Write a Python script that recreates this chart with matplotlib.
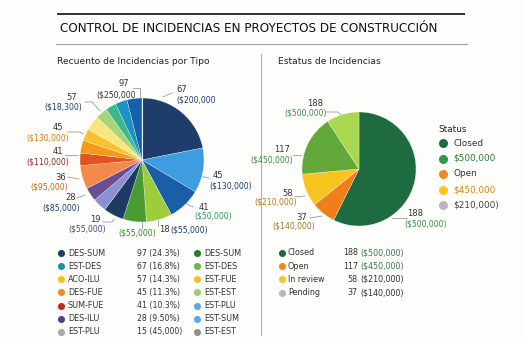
import matplotlib
matplotlib.use("Agg")
import matplotlib.pyplot as plt
import numpy as np

W, H = 525, 343

# ---------------- data ----------------
type_share = [21.9, 11.7, 8.6, 6.7, 6.1, 5.3, 3.6, 3.6, 6.1, 3.3, 3.3, 3.1, 3.9, 3.1, 2.8, 3.1, 3.9]
type_colors = ["#1f3d6b", "#3d9de0", "#1a5ea8", "#9dcc3c", "#4a9b32", "#1c3a62", "#8a90d2",
               "#6b4e94", "#f5894a", "#e4521f", "#f39a1a", "#f8c22c", "#fbe57c", "#a6d67a",
               "#3db88c", "#1b93c2", "#1560aa"]

status_share = [57.2, 6.9, 9.3, 17.2, 9.2]
status_colors = ["#1e6b40", "#f07f1a", "#f8c41f", "#62a83a", "#a8d84f"]

left_pie_numbers = ["97", "67", "45", "41", "18", "", "19", "28", "36", "41", "45", "57"]
left_pie_money = ["($250,000", "($200,000", "($130,000)", "($50,000)", "($55,000)", "($55,000)",
                  "($55,000)", "($85,000)", "($95,000)", "($110,000)", "($130,000)", "($18,300)"]

right_pie_numbers = ["188", "117", "58", "37", "188"]
right_pie_money = ["($500,000)", "($450,000)", "($210,000)", "($140,000)", "($500,000)"]

legend_status_title = "Status"
legend_status_labels = ["Closed", "$500,000", "Open", "$450,000", "$210,000)"]
legend_status_colors = ["#1e6b40", "#2a9a4a", "#f08a1a", "#f8c41f", "#b8b8b8"]

type_names_1 = ["DES-SUM", "EST-DES", "ACO-ILU", "DES-FUE", "SUM-FUE", "DES-ILU", "EST-PLU"]
type_colors_1 = ["#1f3d6b", "#1d8fa8", "#f5c21f", "#f08a1f", "#c0282a", "#5a3d80", "#aaaaaa"]
type_counts_1 = ["97 (24.3%)", "67 (16.8%)", "57 (14.3%)", "45 (11.3%)", "41 (10.3%)", "28 (9.50%)", "15 (45,000)"]
type_names_2 = ["DES-SUM", "EST-DES", "EST-FUE", "EST-EST", "EST-PLU", "EST-SUM", "EST-EST"]
type_colors_2 = ["#2a7a2a", "#6ab845", "#f5c030", "#9ad070", "#5aaae0", "#5aaae8", "#909090"]

status_names = ["Closed", "Open", "In review", "Pending"]
status_leg_colors = ["#1e6b40", "#f08a1a", "#f8c41f", "#b8b8b8"]
status_counts = ["188", "117", "58", "37"]
status_money = ["($500,000)", "($450,000)", "($210,000)", "($140,000)"]
status_money_colors = ["#3a7a4a", "#3a7a4a", "#333333", "#333333"]

plt.rcParams['font.family'] = ['DejaVu Sans']

fig = plt.figure(figsize=(W / 100, H / 100), dpi=100)
fig.patch.set_facecolor("#fdfdfc")
bg = fig.add_axes([0, 0, 1, 1])
bg.set_xlim(0, W)
bg.set_ylim(H, 0)
bg.axis("off")

# ---------- header ----------
bg.plot([57, 465], [13.5, 13.5], color="#333333", lw=1.4, solid_capstyle="butt")
bg.plot([56, 467], [44, 44], color="#a0a0a0", lw=0.8)
bg.text(60, 29, "CONTROL DE INCIDENCIAS EN PROYECTOS DE CONSTRUCCIÓN", fontsize=8.65,
        color="#111111", va="center", ha="left")
bg.text(57, 62, "Recuento de Incidencias por Tipo", fontsize=6.55, color="#222222", va="center")
bg.text(278, 62, "Estatus de Incidencias", fontsize=6.55, color="#222222", va="center")
bg.plot([261, 261], [54, 335], color="#b0b0b0", lw=0.8)


def pie_axes(cx, cy, r):
    ax = fig.add_axes([(cx - r) / W, 1 - (cy + r) / H, 2 * r / W, 2 * r / H])
    return ax


def finish(ax):
    ax.set_xlim(-1, 1)
    ax.set_ylim(-1, 1)
    ax.set_aspect("auto")
    ax.axis("off")


# ---------- left pie ----------
axL = pie_axes(142, 160, 62)
axL.pie(type_share, colors=type_colors, startangle=90, counterclock=False, radius=1,
        wedgeprops=dict(linewidth=0.2, edgecolor="#ffffff"))
axL.plot([0, 0], [0, 1], color="#e8eef5", lw=0.8)
finish(axL)

# label layout: (number pos, money pos, alignment, money colour)
left_layout = [
    ((124, 84), (116, 95), "center", "#333333"),
    ((176, 90), (176, 100), "left", "#1f3d6b"),
    ((213, 176), (209, 185.5), "left", "#1f3d6b"),
    ((199, 207), (194, 216.5), "left", "#2a9a5a"),
    ((159, 230), (170, 230), "left", "#1f3d6b"),
    ((137, 233), (137, 233), "center", "#3a8a2a"),
    ((95.5, 219), (87, 229), "center", "#5a3d8a"),
    ((71, 198), (61, 208), "center", "#1f3d6b"),
    ((61, 177), (49.5, 187), "center", "#c8651b"),
    ((58, 152), (47.5, 162), "center", "#8b2a2a"),
    ((58, 128), (48, 138), "center", "#e07b17"),
    ((72, 97), (63.5, 107), "center", "#1f3d6b"),
]
for num, money, (npos, mpos, ha, mc) in zip(left_pie_numbers, left_pie_money, left_layout):
    if num:
        bg.text(npos[0], npos[1], num, fontsize=6.0, color="#333333", ha=ha, va="center")
    bg.text(mpos[0], mpos[1], money, fontsize=5.6, color=mc, ha=ha, va="center")

left_leaders = [
    [(133, 88), (140, 88), (140, 99)],
    [(163, 97), (172, 93)],
    [(199, 176), (209, 178)],
    [(183, 202), (193, 207)],
    [(158, 220), (158, 226)],
    [(142, 222), (142, 228)],
    [(103, 222), (112, 222), (114, 219)],
    [(77, 198), (85, 195)],
    [(68, 177), (79, 179)],
    [(65, 155), (78, 155)],
    [(68, 132), (80, 132), (83, 134)],
    [(85, 102), (92, 102), (100, 111)],
]
for pts in left_leaders:
    xs, ys = zip(*pts)
    bg.plot(xs, ys, color="#9a9a9a", lw=0.6)

# ---------- right pie ----------
axR = pie_axes(359, 169, 57)
axR.pie(status_share, colors=status_colors, startangle=90, counterclock=False, radius=1,
        wedgeprops=dict(linewidth=0.2, edgecolor="#ffffff"))
finish(axR)

right_layout = [
    ((315.5, 103), (305.5, 113), "#3a8a4a"),
    ((282.5, 150), (272, 160), "#3a8a4a"),
    ((287.5, 193), (276, 202), "#b87a1a"),
    ((301.5, 217), (293.5, 226), "#9a7a2a"),
    ((415.5, 214), (425.5, 224), "#3a8a4a"),
]
for num, money, (npos, mpos, mc) in zip(right_pie_numbers, right_pie_money, right_layout):
    bg.text(npos[0], npos[1], num, fontsize=6.0, color="#333333", ha="center", va="center")
    bg.text(mpos[0], mpos[1], money, fontsize=5.6, color=mc, ha="center", va="center")

right_leaders = [
    [(326, 112), (338, 112), (341, 115)],
    [(293, 155), (301, 155)],
    [(295, 197), (305, 196)],
    [(310, 218), (322, 216)],
    [(392, 218), (407, 218)],
]
for pts in right_leaders:
    xs, ys = zip(*pts)
    bg.plot(xs, ys, color="#9a9a9a", lw=0.6)

# ---------- status legend ----------
bg.text(438, 129, legend_status_title, fontsize=6.4, color="#222222", va="center")
leg_text_colors = ["#333333", "#2a7a3a", "#333333", "#d08a1a", "#444444"]
for i, (lab, col, tc) in enumerate(zip(legend_status_labels, legend_status_colors, leg_text_colors)):
    y = 143 + i * 15.5
    bg.scatter([443], [y], s=42, color=col, zorder=3, linewidths=0)
    bg.text(453, y, lab, fontsize=6.4, color=tc, va="center")

# ---------- bottom-left table ----------
for i in range(len(type_names_1)):
    y = 253.3 + i * 13.06
    bg.scatter([61], [y], s=26, color=type_colors_1[i], linewidths=0, zorder=3)
    bg.text(68, y, type_names_1[i], fontsize=5.8, color="#333333", va="center")
    bg.text(137, y, type_counts_1[i], fontsize=5.6, color="#333333", va="center")
    bg.scatter([197], [y], s=26, color=type_colors_2[i], linewidths=0, zorder=3)
    bg.text(204, y, type_names_2[i], fontsize=5.8, color="#333333", va="center")

# ---------- bottom-right table ----------
for i in range(len(status_names)):
    y = 252.7 + i * 13.35
    bg.scatter([282], [y], s=26, color=status_leg_colors[i], linewidths=0, zorder=3)
    bg.text(288, y, status_names[i], fontsize=5.8, color="#333333", va="center")
    bg.text(358, y, status_counts[i], fontsize=5.8, color="#333333", va="center", ha="right")
    bg.text(360, y, status_money[i], fontsize=5.8, color=status_money_colors[i], va="center", ha="left")

fig.savefig("out.png", dpi=100, facecolor=fig.get_facecolor())
